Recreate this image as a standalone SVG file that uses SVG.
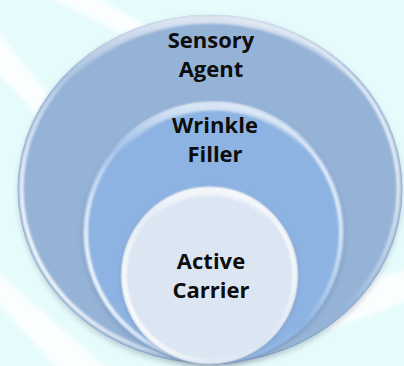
<svg xmlns="http://www.w3.org/2000/svg" width="404" height="366" viewBox="0 0 404 366">
  <defs>
    <filter id="shadow" x="-20%" y="-20%" width="140%" height="140%">
      <feGaussianBlur stdDeviation="3"/>
    </filter>
    <filter id="soft" x="-10%" y="-10%" width="120%" height="120%">
      <feGaussianBlur stdDeviation="1.2"/>
    </filter>
    <filter id="bgblur" x="-20%" y="-20%" width="140%" height="140%">
      <feGaussianBlur stdDeviation="2"/>
    </filter>
    <linearGradient id="rim" x1="0" y1="0.75" x2="1" y2="0.35">
      <stop offset="0" stop-color="#ffffff" stop-opacity="1"/>
      <stop offset="0.35" stop-color="#ffffff" stop-opacity="0.15"/>
      <stop offset="0.7" stop-color="#ffffff" stop-opacity="0"/>
      <stop offset="1" stop-color="#ffffff" stop-opacity="0.8"/>
    </linearGradient>
    <linearGradient id="topband" x1="0" y1="0" x2="0" y2="1">
      <stop offset="0" stop-color="#ffffff" stop-opacity="0.65"/>
      <stop offset="0.18" stop-color="#ffffff" stop-opacity="0"/>
      <stop offset="1" stop-color="#ffffff" stop-opacity="0"/>
    </linearGradient>
    <linearGradient id="edge" x1="0" y1="0" x2="0" y2="1">
      <stop offset="0" stop-color="#a9c1de"/>
      <stop offset="1" stop-color="#7f9cc2"/>
    </linearGradient>
  </defs>
  <style>
    .lbl { font-family: "Open Sans", "Liberation Sans", sans-serif; font-weight: bold; font-size: 22px; fill: #0d0d0d; text-anchor: middle; }
    .shadow { fill: #4d5f78; opacity: 0.35; filter: url(#shadow); }
    .rim { fill: none; stroke: url(#rim); stroke-width: 4; filter: url(#soft); }
    .top { fill: none; stroke: url(#topband); stroke-width: 9; filter: url(#soft); }
  </style>

  <!-- background -->
  <rect x="0" y="0" width="404" height="366" fill="#e6fbfb"/>
  <g fill="#ffffff" opacity="0.85" filter="url(#bgblur)">
    <polygon points="45,-5 95,-5 150,28 125,35"/>
    <polygon points="-5,28 -5,70 70,150 60,110"/>
    <polygon points="-5,270 -5,300 60,371 110,371"/>
    <polygon points="300,290 409,270 409,300 330,330"/>
  </g>

  <g id="outer">
    <ellipse class="shadow" cx="210" cy="192" rx="191" ry="174"/>
    <ellipse cx="210" cy="189" rx="192" ry="174" fill="#95b3d7" stroke="url(#edge)" stroke-width="1"/>
    <ellipse class="top" cx="210" cy="189" rx="188" ry="170"/>
    <ellipse class="rim" cx="210" cy="189" rx="188.5" ry="170.5"/>
    <text class="lbl" x="211" y="48">Sensory</text>
    <text class="lbl" x="211" y="76.5">Agent</text>
  </g>

  <g id="middle">
    <circle class="shadow" cx="213.5" cy="235" r="130"/>
    <circle cx="213.5" cy="233" r="131" fill="#8db3e2" stroke="url(#edge)" stroke-width="1"/>
    <circle class="top" cx="213.5" cy="233" r="127"/>
    <circle class="rim" cx="213.5" cy="233" r="127.5"/>
    <text class="lbl" x="215" y="133">Wrinkle</text>
    <text class="lbl" x="215" y="162">Filler</text>
  </g>

  <g id="inner">
    <circle class="shadow" cx="209.5" cy="277" r="87"/>
    <circle cx="209.5" cy="275.5" r="88.5" fill="#dce6f2" stroke="#b9c9dd" stroke-width="1"/>
    <circle class="top" cx="209.5" cy="275.5" r="84.5"/>
    <circle class="rim" cx="209.5" cy="275.5" r="85"/>
    <text class="lbl" x="211" y="269">Active</text>
    <text class="lbl" x="211" y="297.5">Carrier</text>
  </g>
</svg>
